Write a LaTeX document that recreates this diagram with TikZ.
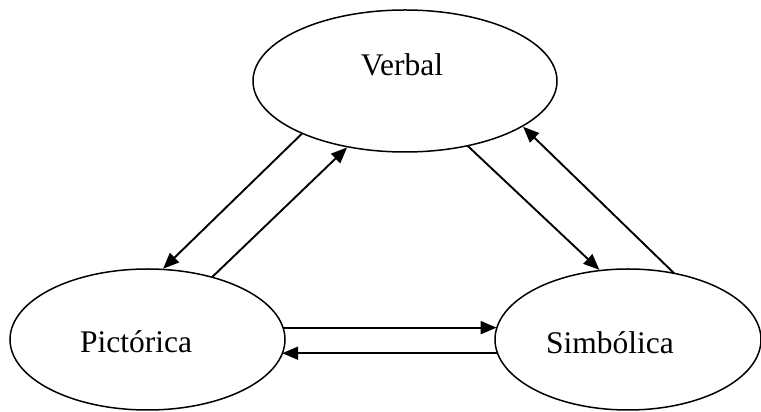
\documentclass[tikz,border=0pt]{standalone}
\usepackage{fontspec}
\setmainfont{Liberation Serif}
\usepackage{tikz}
\usetikzlibrary{shapes.geometric, arrows.meta, positioning, calc}

\tikzset{
  repbox/.style={draw, ellipse, line width=1.5pt, inner sep=0pt, outer sep=0pt},
  replabel/.style={anchor=base, inner sep=0pt, font=\fontsize{31.5}{36}\selectfont},
  flow/.style={line width=1.9pt, -{Triangle[length=16pt, width=13pt]}, shorten >=1pt}
}

\begin{document}
\begin{tikzpicture}[x=1pt, y=1pt]
  \useasboundingbox (0, 0) rectangle (761, 412);

  % Representations
  \node[repbox, minimum width=304pt, minimum height=142pt] (verbal) at (405, 331) {};
  \node[repbox, minimum width=275pt, minimum height=141pt] (pictorica) at (147.5, 72.5) {};
  \node[repbox, minimum width=266pt, minimum height=141pt] (simbolica) at (628, 72.5) {};

  % Labels
  \node[replabel] (verbaltxt) at (402, 336) {Verbal};
  \node[replabel] (pictoricatxt) at (136, 59) {Pictórica};
  \node[replabel] (simbolicatxt) at (610, 58) {Simbólica};

  % Verbal <-> Pictorica
  \draw[flow] (verbal.207.6) -- (pictorica.78.8);
  \draw[flow] (pictorica.44.1) -- (verbal.229.6);

  % Verbal <-> Simbolica
  \draw[flow] (verbal.314.6) -- (simbolica.112.1);
  \draw[flow] (simbolica.55) -- (verbal.339.5);

  % Pictorica <-> Simbolica
  \draw[flow] (pictorica.5.2) -- (pictorica.5.2 -| simbolica.174.6);
  \draw[flow] (simbolica.186.5) -- (simbolica.186.5 -| pictorica.353.4);
\end{tikzpicture}
\end{document}
